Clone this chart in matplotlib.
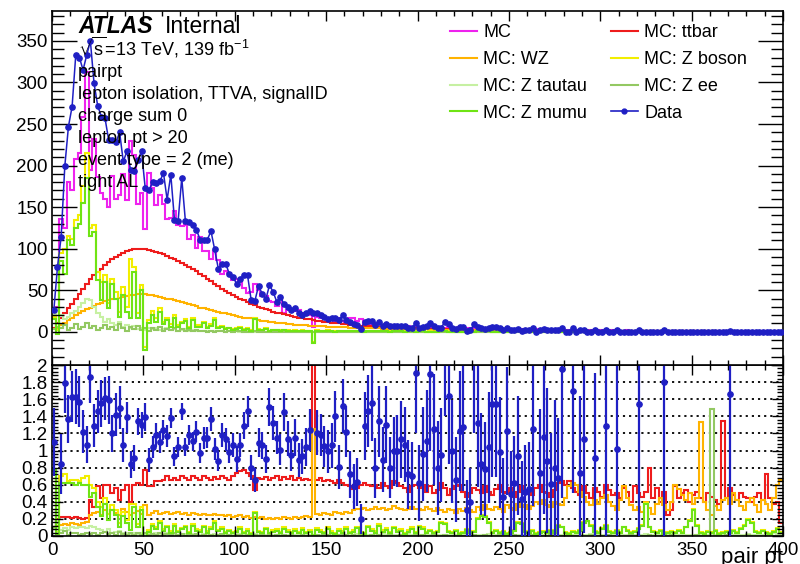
import numpy as np
import matplotlib
matplotlib.use('Agg')
import matplotlib.pyplot as plt
from matplotlib.ticker import MultipleLocator, FuncFormatter
from matplotlib.lines import Line2D

plt.rcParams['font.family'] = ['Liberation Sans', 'DejaVu Sans']
plt.rcParams['mathtext.fontset'] = 'custom'
plt.rcParams['mathtext.rm'] = 'Liberation Sans'
plt.rcParams['mathtext.it'] = 'Liberation Sans:italic'

nan = np.nan
X_MIN, X_MAX, N_BINS = 0, 400, 200

# ---------------- top panel: event counts per bin ----------------
DATA_TOP = [
 26, 78, 114, 199, 247, 271, 333, 330, 315, 333, 350, 299, 272, 259, 257, 231, 231, 228, 240, 205,
 217, 195, 194, 207, 217, 173, 170, 180, 179, 181, 191, 159, 189, 135, 133, 185, 133, 132, 129, 123,
 111, 111, 111, 121, 99, 76, 82, 82, 70, 66, 58, 64, 68, 68, 38, 37, 55, 46, 39, 56,
 48, 36, 42, 33, 30, 26, 29, 23, 20, 22, 25, 23, 22, 20, 18, 15, 16, 17, 14, 20,
 14, 12, 9, 8, 3, 12, 13, 13, 8, 12, 7, 9, 7, 7, 7, 7, 7, 5, 4, 11,
 4, 6, 7, 10, 7, 5, 5, 12, 9, 5, 3, 6, 6, 1, 2, 9, 6, 4, 3, 4,
 6, 6, 4, 2, 4, 2, 2, 3, 1, 2, 2, 4, 0, 2, 3, 2, 2, 2, 2, 4,
 0, 0, 4, 0, 2, 2, 0, 0, 2, 0, 0, 2, 0, 0, 2, 0, 0, 0, 0, 0,
 2, 0, 0, 0, 0, 0, 0, 2, 0, 0, 0, 0, 0, 0, 0, 0, 0, 0, 0, 0,
 0, 0, 0, 0, 0, 1, 0, 0, 0, 0, 0, 0, 0, 0, 0, 0, 0, 0, 0, 0]

MC_TOP = [
 24, 30, 136, 125, 180, 170, 208, 215, 258, 312, 195, 232, 186, 167, 160, 150, 188, 160, 165, 190,
 158, 230, 213, 154, 167, 124, 191, 173, 152, 165, 154, 136, 137, 145, 128, 127, 128, 112, 116, 101,
 114, 97, 97, 88, 97, 86, 69, 73, 71, 62, 64, 60, 53, 47, 48, 57, 50, 43, 43, 37,
 36, 31, 40, 23, 26, 27, 25, 26, 22, 21, 20, 6, 18, 17, 17, 15, 15, 12, 17, 13,
 11, 17, 16, 13, 15, 9.5, 9, 8.5, 10, 9, 7.5, 7, 8.5, 7, 7, 6.5, 6.5, 6.8, 6.2, 5.8,
 6.0, 5.8, 6.2, 5.5, 5.6, 5.9, 5.2, 5.0, 5.6, 5.1, 4.8, 5.2, 4.7, 4.5, 4.9, 4.3, 4.2, 4.5, 4.0, 3.9,
 4.1, 3.7, 3.6, 3.9, 3.4, 3.5, 3.3, 3.6, 3.1, 3.0, 3.3, 2.9, 3.0, 2.7, 3.0, 2.6, 2.7, 2.4, 2.8, 2.3,
 2.4, 2.2, 2.5, 2.1, 2.2, 2.0, 2.1, 1.8, 2.0, 1.7, 1.9, 1.8, 1.5, 1.6, 1.7, 1.4, 1.5, 1.6, 1.3, 1.4,
 1.3, 1.2, 1.4, 1.2, 1.3, 1.0, 1.1, 1.2, 1.0, 1.1, 0.9, 1.0, 1.1, 0.9, 1.0, 0.8, 0.9, 0.8, 0.8, 0.9,
 0.7, 0.8, 0.7, 0.8, 0.7, 0.8, 0.6, 0.7, 0.7, 0.6, 0.7, 0.6, 0.6, 0.5, 0.6, 0.6, 0.5, 0.5, 0.5, 0.4]

TTBAR_TOP = [
 5, 10, 16, 22, 28, 34, 40, 46, 52, 58, 63, 68, 72, 76, 80, 84, 87, 90, 92, 95,
 97, 98, 99, 99, 99, 99, 98, 97, 96, 95, 93, 91, 89, 87, 85, 83, 80, 78, 76, 73,
 70, 67, 64, 61, 58, 55, 52, 49, 47, 44, 42, 40, 38, 36, 34, 32, 30, 29, 27, 26,
 24, 23, 22, 21, 20, 19, 18, 17, 16, 15.5, 15, 14, 13.5, 13, 12, 11.5, 11, 10.5, 10, 9.5,
 9, 8.5, 8, 7.5, 7, 6.8, 6.6, 6.4, 6.2, 6.0, 5.8, 5.6, 5.4, 5.2, 5.0, 4.8, 4.6, 4.5, 4.4, 4.2,
 4.0, 3.9, 3.8, 3.7, 3.6, 3.5, 3.4, 3.3, 3.2, 3.1, 3.0, 2.9, 2.8, 2.7, 2.6, 2.5, 2.45, 2.4, 2.3, 2.2,
 2.1, 2.05, 2.0, 1.95, 1.9, 1.85, 1.8, 1.75, 1.7, 1.65, 1.6, 1.55, 1.5, 1.45, 1.4, 1.35, 1.3, 1.25, 1.2, 1.15,
 1.1, 1.08, 1.05, 1.02, 1.0, 0.97, 0.94, 0.9, 0.88, 0.85, 0.82, 0.8, 0.78, 0.76, 0.74, 0.72, 0.7, 0.68, 0.66, 0.64,
 0.62, 0.6, 0.58, 0.56, 0.55, 0.54, 0.52, 0.5, 0.49, 0.48, 0.46, 0.45, 0.44, 0.43, 0.42, 0.41, 0.4, 0.39, 0.38, 0.37,
 0.36, 0.35, 0.34, 0.33, 0.32, 0.31, 0.3, 0.29, 0.28, 0.28, 0.27, 0.26, 0.26, 0.25, 0.24, 0.24, 0.23, 0.22, 0.22, 0.21]

WZ_TOP = [
 3, 5, 8, 11, 14, 17, 20, 22, 25, 27, 29, 31, 33, 35, 37, 38, 39, 40, 41, 42,
 43, 44, 44, 45, 45, 45, 44, 44, 43, 42, 41, 40, 39, 38, 37, 36, 35, 34, 32, 31,
 29, 28, 27, 26, 25, 24, 23, 22, 21, 20, 19, 18, 17, 16.5, 16, 15, 14, 13.5, 12.5, 12,
 11.5, 11, 10.5, 10, 9.5, 9, 8.7, 8.4, 8.1, 7.8, 7.5, 7.2, 7, 6.8, 6.6, 6.3, 6.1, 5.9, 5.7, 5.5,
 5.3, 5.1, 5.0, 4.8, 4.7, 4.5, 4.4, 4.3, 4.1, 4.0, 3.9, 3.8, 3.7, 3.6, 3.5, 3.4, 3.3, 3.2, 3.1, 3.0,
 2.9, 2.85, 2.8, 2.7, 2.65, 2.6, 2.5, 2.45, 2.4, 2.3, 2.25, 2.2, 2.1, 2.05, 2.0, 1.95, 1.9, 1.85, 1.8, 1.75,
 1.7, 1.65, 1.6, 1.55, 1.5, 1.47, 1.43, 1.4, 1.36, 1.32, 1.28, 1.25, 1.22, 1.18, 1.15, 1.12, 1.1, 1.07, 1.04, 1.0,
 0.98, 0.95, 0.93, 0.9, 0.88, 0.85, 0.83, 0.8, 0.78, 0.76, 0.74, 0.72, 0.7, 0.68, 0.66, 0.64, 0.62, 0.6, 0.58, 0.57,
 0.55, 0.54, 0.52, 0.51, 0.5, 0.48, 0.47, 0.46, 0.45, 0.44, 0.42, 0.41, 0.4, 0.39, 0.38, 0.37, 0.36, 0.35, 0.34, 0.33,
 0.32, 0.31, 0.3, 0.3, 0.29, 0.28, 0.27, 0.27, 0.26, 0.25, 0.25, 0.24, 0.23, 0.23, 0.22, 0.22, 0.21, 0.2, 0.2, 0.19]

ZBOSON_TOP = [
 18, 2, 95, 100, 115, 112, 135, 140, 175, 215, 125, 128, 72, 60, 68, 35, 64, 48, 24, 54,
 30, 88, 78, 22, 56, -18, 14, 25, 16, 28, 12, 17, 9, 20, 8, 12, 15, 6, 16, 8,
 8, 12, 6, 9, 16, 6, 7, 4, 5, 3, 4, 6, 3, 4, 2, 16, 3, 2.5, 4, 1.5,
 2.5, 2.5, 2, 2.5, 1.8, 1.2, 2, 1.4, 2, 1, 1.4, -12, 1.6, 1.2, 0.9, 1.8, 1.1, 0.6, 1.4, 1.0,
 1.2, 0.7, 1.1, 1.5, 0.8, 0.6, 1.2, 0.9, 0.7, 1.4, 0.8, 1.0, 0.6, 1.1, 0.7, 0.9, 0.5, 0.8, 1.0, 0.6,
 0.7, 0.6, 0.3, 0.4, 0.3, 0.4, 0.9, 0.8, 0.4, 0.3, 0.4, 0.2, 0.3, 0.4, 0.2, 0.3, 0.9, 1.0, 1.0, 0.7,
 0.3, 0.3, 0.2, 0.3, 0.2, 0.2, 0.3, 0.6, 0.5, 0.3, 0.2, 0.3, 0.2, 0.2, 0.3, 0.2, 0.3, 0.2, 0.4, 0.3,
 0.2, 0.1, 0.2, 0.2, 0.2, 0.4, 0.5, 0.3, 0.2, 0.2, 0.3, 0.3, 0.2, 0.1, 0.2, 0.2, 0.3, 0.2, 0.1, 0.2,
 0.2, 0.2, 0.6, 0.2, 0.2, 0.1, 0.2, 0.1, 0.1, 0.2, 0.1, 0.2, 0.1, 0.2, 0.3, 0.3, 0.2, 0.1, 0.1, 0.1,
 0.1, 0.1, 0.1, 0.1, 0.1, 0.1, 0.1, 0.1, 0.2, 0.2, 0.2, 0.2, 0.1, 0.1, 0.1, 0.1, 0.1, 0.1, 0.1, 0.1]

ZTAUTAU_TOP = [
 20, 28, 20, 15, 18, 22, 25, 30, 35, 40, 38, 30, 22, 18, 12, 15, 10, 8, 12, 6,
 8, 5, 7, 3, 5, 2, 4, 3, 5, 2, 3, 4, 2, 3, 1, 2, 3, 1, 2, 1,
 1, 0.5, 1, 0.5, 0.8, 0.4, 0.6, 0.3, 0.5, 0.2, 0.4, 0.3, 0.2, 0.4, 0.1, 0.3, 0.2, 0.1, 0.2, 0.1,
 0.2, 0.1, 0.1, 0.2, 0.1, 0.1, 0.1, 0.2, 0.1, 0.0, 0.1, 0.1, 0.1, 0.0, 0.1, 0.1, 0.0, 0.1, 0.1, 0.0,
 0.1, 0.0, 0.1, 0.1, 0.0, 0.1, 0.0, 0.0, 0.1, 0.0, 0.0, 0.1, 0.0, 0.0, 0.0, 0.1, 0.0, 0.0, 0.0, 0.0,
 0.05, 0.0, 0.0, 0.05, 0.0, 0.0, 0.05, 0.0, 0.0, 0.0, 0.05, 0.0, 0.0, 0.0, 0.05, 0.0, 0.0, 0.0, 0.0, 0.05,
 0.0, 0.0, 0.0, 0.05, 0.0, 0.0, 0.0, 0.0, 0.05, 0.0, 0.0, 0.0, 0.0, 0.0, 0.05, 0.0, 0.0, 0.0, 0.0, 0.0,
 0.05, 0.0, 0.0, 0.0, 0.0, 0.0, 0.05, 0.0, 0.0, 0.0, 0.0, 0.0, 0.0, 0.05, 0.0, 0.0, 0.0, 0.0, 0.0, 0.0,
 0.0, 0.0, 0.05, 0.0, 0.0, 0.0, 0.0, 0.0, 0.0, 0.0, 0.05, 0.0, 0.0, 0.0, 0.0, 0.0, 0.0, 0.0, 0.05, 0.0,
 0.0, 0.0, 0.0, 0.0, 0.05, 0.0, 0.0, 0.0, 0.0, 0.0, 0.0, 0.0, 0.0, 0.0, 0.05, 0.0, 0.0, 0.0, 0.0, 0.0]

ZEE_TOP = [
 3, 6, 4, 8, 2, 5, 9, 3, 6, 10, 4, 7, 2, 5, 8, 3, 6, 2, 9, 4,
 1, 6, 3, 7, 2, 5, 1, 4, 2, 6, 1, 3, 2, 4, 1, 3, 0.5, 2, 1, 2,
 0.5, 1, 0.3, 0.8, 0.2, 0.6, 1.0, 0.3, 0.5, 0.2, 0.4, 0.6, 0.2, 0.3, 0.1, 0.4, 0.2, 0.3, 0.1, 0.2,
 0.1, 0.2, 0.1, 0.3, 0.1, 0.2, 0.1, 0.1, 0.2, 0.1, 0.0, 0.1, 0.1, 0.0, 0.1, 0.2, 0.1, 0.0, 0.1, 0.1,
 0.1, 0.0, 0.1, 0.0, 0.1, 0.0, 0.0, 0.1, 0.0, 0.1, 0.0, 0.0, 0.1, 0.0, 0.0, 0.1, 0.0, 0.0, 0.0, 0.1,
 0.0, 0.05, 0.0, 0.0, 0.05, 0.0, 0.0, 0.05, 0.0, 0.0, 0.0, 0.05, 0.0, 0.0, 0.0, 0.05, 0.0, 0.0, 0.05, 0.0,
 0.0, 0.0, 0.05, 0.0, 0.0, 0.0, 0.05, 0.0, 0.0, 0.0, 0.0, 0.05, 0.0, 0.0, 0.0, 0.0, 0.05, 0.0, 0.0, 0.0,
 0.0, 0.05, 0.0, 0.0, 0.0, 0.0, 0.0, 0.05, 0.0, 0.0, 0.0, 0.0, 0.05, 0.0, 0.0, 0.0, 0.0, 0.0, 0.05, 0.0,
 0.0, 0.0, 0.0, 0.05, 0.0, 0.0, 0.0, 0.0, 0.0, 0.05, 0.0, 0.0, 0.0, 0.0, 0.0, 0.0, 0.05, 0.0, 0.0, 0.0,
 1.0, 0.0, 0.0, 0.0, 0.05, 0.0, 0.0, 0.0, 0.0, 0.0, 0.05, 0.0, 0.0, 0.0, 0.0, 0.0, 0.05, 0.0, 0.0, 0.0]

ZMUMU_TOP = [
 15, -3, 85, 70, 110, 105, 125, 130, 155, 185, 115, 120, 62, 38, 60, 28, 58, 40, 18, 44,
 24, 16, 72, 17, 50, -22, 10, 20, 12, 24, 9, 14, 6, 17, 6, 10, 13, 4, 14, 6,
 6, 10, 4, 7, 14, 5, 6, 3, 4, 2, 3, 5, 2, 3, 1, 15, 2.5, 2, 3.5, 1,
 2, 2, 1.5, 2, 1.3, 0.8, 1.5, 1, 1.5, 0.6, 1, -14, 1.2, 0.8, 0.5, 1.4, 0.7, 0.3, 1.0, 0.6,
 0.9, 0.4, 0.8, 1.2, 0.5, 0.3, 0.9, 0.6, 0.4, 1.1, 0.5, 0.7, 0.3, 0.8, 0.4, 0.6, 0.2, 0.5, 0.7, 0.3,
 0.6, 0.5, 0.2, 0.3, 0.2, 0.3, 0.8, 0.7, 0.3, 0.2, 0.3, 0.1, 0.2, 0.3, 0.1, 0.2, 0.8, 0.9, 0.9, 0.6,
 0.2, 0.2, 0.1, 0.2, 0.1, 0.1, 0.2, 0.5, 0.4, 0.2, 0.1, 0.2, 0.1, 0.1, 0.2, 0.1, 0.2, 0.1, 0.3, 0.2,
 0.1, 0.0, 0.1, 0.1, 0.1, 0.3, 0.4, 0.2, 0.1, 0.1, 0.2, 0.2, 0.1, 0.0, 0.1, 0.1, 0.2, 0.1, 0.0, 0.1,
 0.1, 0.1, 0.5, 0.1, 0.1, 0.0, 0.1, 0.0, 0.0, 0.1, 0.0, 0.1, 0.0, 0.1, 0.2, 0.2, 0.1, 0.0, 0.0, 0.0,
 0.0, 0.0, 0.0, 0.0, 0.0, 0.0, 0.0, 0.0, 0.1, 0.1, 0.1, 0.1, 0.0, 0.0, 0.0, 0.0, 0.0, 0.0, 0.0, 0.0]

# ---------------- ratio panel (fraction of total MC) ----------------
R_DATA = [
 1.10, nan, 0.84, 1.79, 1.37, 1.63, 1.63, 1.57, 1.22, 1.07, 1.86, 1.29, 1.46, 1.55, 1.61, 1.59, 1.20, 1.42, 1.50, 1.06,
 1.39, 0.84, 0.91, 1.34, 1.30, 1.39, 0.89, 1.04, 1.18, 1.10, 1.24, 1.17, 1.38, 0.93, 1.04, 1.46, 1.04, 1.18, 1.11, 1.22,
 0.97, 1.15, 1.15, 1.37, 1.02, 0.88, 1.18, 1.13, 0.98, 1.06, 0.90, 1.06, 1.29, 1.46, 0.80, 0.65, 1.09, 1.06, 0.90, 1.51,
 1.32, 1.15, 1.01, 1.45, 1.14, 0.95, 1.15, 0.89, 0.93, 1.04, 1.24, nan, 1.21, 1.18, 1.05, 0.99, 1.06, 1.40, 0.81, 1.52,
 1.22, 0.72, 0.58, 0.63, 0.20, 1.29, 1.46, 1.56, 0.80, 1.34, 0.89, 1.30, 0.80, 0.99, 0.99, 1.13, 1.07, 0.72, 0.70, 1.91,
 0.62, 0.96, 1.11, 1.89, 1.25, 0.80, 0.95, 2.40, 1.64, 0.99, 0.66, 1.23, 1.28, 0.30, 0.40, 2.20, 1.32, 0.84, 0.78, 1.04,
 1.54, 1.54, 0.98, 0.46, 1.23, 0.49, 0.62, 0.94, 0.43, 0.52, 0.55, 1.25, nan, 0.74, 1.16, 0.88, 0.61, 0.79, 0.68, 1.95,
 nan, nan, 1.70, nan, 0.74, 1.13, nan, nan, 0.91, nan, nan, 1.29, nan, nan, 1.02, nan, nan, nan, nan, nan,
 1.54, nan, nan, nan, nan, nan, nan, 1.80, nan, nan, nan, nan, nan, nan, nan, nan, nan, nan, nan, nan,
 nan, nan, nan, nan, nan, 1.66, nan, nan, nan, nan, nan, nan, nan, nan, nan, nan, nan, nan, nan, nan]

R_DATA_ERR = [
 0.40, 0, 0.35, 0.35, 0.28, 0.30, 0.32, 0.30, 0.25, 0.22, 0.30, 0.25, 0.25, 0.28, 0.25, 0.28, 0.22, 0.25, 0.25, 0.20,
 0.18, 0.16, 0.15, 0.16, 0.15, 0.16, 0.14, 0.13, 0.14, 0.13, 0.12, 0.13, 0.12, 0.11, 0.12, 0.10, 0.11, 0.12, 0.11, 0.12,
 0.12, 0.13, 0.12, 0.14, 0.13, 0.12, 0.14, 0.13, 0.13, 0.14, 0.15, 0.14, 0.16, 0.18, 0.15, 0.14, 0.17, 0.16, 0.16, 0.22,
 0.20, 0.19, 0.18, 0.22, 0.20, 0.19, 0.22, 0.20, 0.21, 0.22, 0.25, 0, 0.26, 0.25, 0.24, 0.25, 0.26, 0.30, 0.26, 0.32,
 0.30, 0.28, 0.26, 0.28, 0.18, 0.40, 0.42, 0.45, 0.35, 0.42, 0.38, 0.45, 0.36, 0.40, 0.42, 0.45, 0.44, 0.40, 0.40, 0.70,
 0.45, 0.55, 0.60, 0.90, 0.65, 0.55, 0.55, 1.00, 0.80, 0.60, 0.50, 0.70, 0.75, 0.35, 0.40, 1.00, 0.75, 0.60, 0.55, 0.65,
 0.85, 0.85, 0.65, 0.45, 0.75, 0.50, 0.55, 0.70, 0.45, 0.55, 0.55, 0.90, 0, 0.75, 0.90, 0.85, 0.60, 0.80, 0.70, 1.50,
 0, 0, 1.20, 0, 0.90, 1.10, 0, 0, 1.00, 0, 0, 1.60, 0, 0, 1.60, 0, 0, 0, 0, 0,
 2.00, 0, 0, 0, 0, 0, 0, 2.20, 0, 0, 0, 0, 0, 0, 0, 0, 0, 0, 0, 0,
 0, 0, 0, 0, 0, 2.00, 0, 0, 0, 0, 0, 0, 0, 0, 0, 0, 0, 0, 0, 0]

R_TTBAR = [
 0.10, 0.20, 0.22, 0.22, 0.22, 0.21, 0.22, 0.21, 0.20, 0.21, 0.42, 0.34, 0.58, 0.45, 0.60, 0.60, 0.50, 0.56, 0.42, 0.54,
 0.60, 0.40, 0.60, 0.62, 0.60, 0.77, 0.58, 0.58, 0.64, 0.64, 0.66, 0.70, 0.66, 0.68, 0.66, 0.70, 0.68, 0.66, 0.70, 0.68,
 0.66, 0.70, 0.68, 0.66, 0.69, 0.67, 0.70, 0.68, 0.66, 0.70, 0.74, 0.76, 0.77, 0.74, 0.70, 0.54, 0.68, 0.67, 0.69, 0.66,
 0.68, 0.70, 0.66, 0.69, 0.67, 0.70, 0.66, 0.68, 0.65, 0.67, 0.66, 2.50, 0.66, 0.68, 0.64, 0.66, 0.64, 0.62, 0.66, 0.62,
 0.60, 0.58, 0.55, 0.56, 0.60, 0.62, 0.60, 0.58, 0.60, 0.56, 0.62, 0.58, 0.56, 0.64, 0.62, 0.58, 0.56, 0.52, 0.58, 0.60,
 0.56, 0.60, 0.52, 0.58, 0.50, 0.54, 0.62, 0.56, 0.48, 0.55, 0.58, 0.60, 0.52, 0.46, 0.50, 0.56, 0.54, 0.50, 0.58, 0.52,
 0.48, 0.55, 0.60, 0.52, 0.50, 0.56, 0.46, 0.52, 0.58, 0.54, 0.50, 0.48, 0.56, 0.60, 0.52, 0.50, 0.46, 0.54, 0.62, 0.64,
 0.60, 0.64, 0.56, 0.52, 0.48, 0.58, 0.50, 0.44, 0.56, 0.52, 0.46, 0.60, 0.54, 0.48, 0.50, 0.44, 0.56, 0.52, 0.40, 0.58,
 0.50, 0.46, 0.52, 0.79, 0.44, 0.56, 0.40, 0.52, 0.25, 0.30, 0.58, 0.44, 0.50, 0.54, 0.40, 0.48, 0.52, 0.44, 0.40, 0.50,
 0.46, 0.42, 0.38, 1.34, 0.44, 0.56, 0.48, 0.42, 0.50, 0.46, 0.44, 0.40, 0.46, 0.50, 0.42, 0.72, 0.45, 0.38, 0.40, 0.15]

R_WZ = [
 0.10, 0.12, 0.13, 0.14, 0.13, 0.15, 0.14, 0.13, 0.15, 0.16, 0.25, 0.27, 0.28, 0.24, 0.30, 0.26, 0.30, 0.27, 0.25, 0.32,
 0.28, 0.24, 0.27, 0.29, 0.26, 0.36, 0.25, 0.27, 0.29, 0.26, 0.27, 0.28, 0.26, 0.27, 0.28, 0.26, 0.27, 0.25, 0.27, 0.26,
 0.25, 0.26, 0.25, 0.24, 0.26, 0.24, 0.25, 0.23, 0.24, 0.22, 0.23, 0.24, 0.22, 0.23, 0.21, 0.22, 0.21, 0.22, 0.20, 0.21,
 0.20, 0.21, 0.20, 0.22, 0.21, 0.20, 0.22, 0.21, 0.22, 0.23, 0.22, 1.25, 0.26, 0.25, 0.27, 0.26, 0.25, 0.28, 0.27, 0.26,
 0.28, 0.27, 0.30, 0.32, 0.31, 0.33, 0.30, 0.32, 0.34, 0.31, 0.33, 0.30, 0.32, 0.35, 0.33, 0.31, 0.30, 0.32, 0.34, 0.31,
 0.32, 0.30, 0.34, 0.31, 0.29, 0.33, 0.30, 0.28, 0.32, 0.30, 0.27, 0.31, 0.29, 0.33, 0.30, 0.28, 0.34, 0.30, 0.36, 0.32,
 0.30, 0.34, 0.31, 0.28, 0.36, 0.33, 0.30, 0.38, 0.34, 0.36, 0.32, 0.35, 0.40, 0.38, 0.42, 0.36, 0.34, 0.40, 0.38, 0.36,
 0.44, 0.58, 0.62, 0.60, 0.52, 0.46, 0.40, 0.36, 0.42, 0.38, 0.45, 0.48, 0.40, 0.35, 0.30, 0.42, 0.58, 0.45, 0.36, 0.30,
 0.34, 0.28, 0.40, 0.33, 0.26, 0.38, 0.45, 0.36, 0.30, 0.40, 0.60, 0.55, 0.48, 0.42, 0.50, 0.38, 0.45, 1.33, 0.40, 0.30,
 0.25, 0.35, 0.30, 0.42, 0.45, 0.38, 0.50, 0.42, 0.35, 0.30, 0.40, 0.44, 0.36, 0.28, 0.42, 0.38, 0.30, 0.45, 0.60, 0.66]

R_ZBOSON = [
 0.78, 0.05, 0.70, 0.72, 0.64, 0.66, 0.66, 0.64, 0.68, 0.70, 0.60, 0.56, 0.40, 0.34, 0.44, 0.26, 0.36, 0.30, 0.15, 0.28,
 0.19, 0.38, 0.37, 0.14, 0.34, -0.08, 0.07, 0.14, 0.10, 0.17, 0.08, 0.12, 0.06, 0.14, 0.06, 0.09, 0.12, 0.05, 0.14, 0.08,
 0.07, 0.12, 0.06, 0.10, 0.17, 0.07, 0.10, 0.05, 0.07, 0.05, 0.06, 0.10, 0.05, 0.08, 0.04, 0.28, 0.06, 0.05, 0.09, 0.04,
 0.07, 0.08, 0.05, 0.10, 0.07, 0.05, 0.08, 0.05, 0.09, 0.05, 0.07, -0.40, 0.09, 0.07, 0.05, 0.10, 0.06, 0.04, 0.08, 0.06,
 0.10, 0.05, 0.07, 0.11, 0.05, 0.04, 0.12, 0.08, 0.06, 0.14, 0.07, 0.09, 0.05, 0.11, 0.07, 0.08, 0.04, 0.07, 0.10, 0.05,
 0.12, 0.10, 0.05, 0.07, 0.05, 0.06, 0.16, 0.15, 0.06, 0.05, 0.07, 0.04, 0.05, 0.08, 0.05, 0.06, 0.21, 0.24, 0.23, 0.16,
 0.05, 0.07, 0.05, 0.06, 0.04, 0.05, 0.07, 0.16, 0.15, 0.06, 0.05, 0.07, 0.04, 0.05, 0.06, 0.05, 0.07, 0.05, 0.13, 0.11,
 0.05, 0.04, 0.06, 0.05, 0.07, 0.16, 0.18, 0.13, 0.06, 0.05, 0.09, 0.13, 0.06, 0.05, 0.07, 0.05, 0.11, 0.07, 0.05, 0.06,
 0.09, 0.13, 0.39, 0.11, 0.06, 0.05, 0.07, 0.04, 0.05, 0.06, 0.05, 0.07, 0.05, 0.11, 0.19, 0.31, 0.13, 0.05, 0.04, 0.06,
 0.05, 0.07, 0.04, 0.05, 0.06, 0.05, 0.07, 0.05, 0.09, 0.13, 0.20, 0.16, 0.06, 0.05, 0.07, 0.05, 0.04, 0.06, 0.09, 0.05]

R_ZTAUTAU = [
 0.08, 0.03, 0.07, 0.09, 0.07, 0.10, 0.09, 0.11, 0.10, 0.09, 0.12, 0.10, 0.08, 0.07, 0.05, 0.08, 0.04, 0.05, 0.06, 0.03,
 0.04, 0.02, 0.03, 0.02, 0.03, 0.01, 0.02, 0.02, 0.03, 0.01, 0.02, 0.03, 0.01, 0.02, 0.01, 0.02, 0.02, 0.01, 0.02, 0.01,
 0.01, 0.02, 0.01, 0.01, 0.02, 0.01, 0.01, 0.02, 0.01, 0.01, 0.01, 0.02, 0.01, 0.01, 0.01, 0.02, 0.01, 0.01, 0.01, 0.01,
 0.01, 0.01, 0.02, 0.01, 0.01, 0.01, 0.01, 0.02, 0.01, 0.01, 0.01, 0.01, 0.01, 0.01, 0.02, 0.01, 0.01, 0.01, 0.01, 0.01,
 0.01, 0.01, 0.01, 0.02, 0.01, 0.01, 0.01, 0.01, 0.01, 0.01, 0.02, 0.01, 0.01, 0.01, 0.01, 0.01, 0.01, 0.02, 0.01, 0.01,
 0.01, 0.01, 0.01, 0.01, 0.02, 0.01, 0.01, 0.01, 0.01, 0.01, 0.01, 0.01, 0.02, 0.01, 0.01, 0.01, 0.01, 0.01, 0.01, 0.02,
 0.01, 0.01, 0.01, 0.01, 0.01, 0.02, 0.01, 0.01, 0.01, 0.01, 0.01, 0.01, 0.01, 0.02, 0.01, 0.01, 0.01, 0.01, 0.01, 0.01,
 0.02, 0.01, 0.01, 0.01, 0.01, 0.01, 0.01, 0.02, 0.01, 0.01, 0.01, 0.01, 0.01, 0.01, 0.01, 0.02, 0.01, 0.01, 0.01, 0.01,
 0.01, 0.01, 0.02, 0.01, 0.01, 0.01, 0.01, 0.01, 0.01, 0.02, 0.01, 0.01, 0.01, 0.01, 0.01, 0.01, 0.01, 0.02, 0.01, 0.01,
 0.01, 0.01, 0.01, 0.02, 0.01, 0.01, 0.01, 0.01, 0.01, 0.01, 0.02, 0.01, 0.01, 0.01, 0.01, 0.01, 0.02, 0.03, 0.02, 0.01]

R_ZEE = [
 0.10, 0.15, 0.03, 0.06, 0.01, 0.03, 0.04, 0.01, 0.02, 0.03, 0.02, 0.03, 0.01, 0.03, 0.05, 0.02, 0.03, 0.01, 0.05, 0.02,
 0.01, 0.03, 0.01, 0.04, 0.01, 0.04, 0.01, 0.02, 0.01, 0.04, 0.01, 0.02, 0.01, 0.03, 0.01, 0.02, 0.00, 0.02, 0.01, 0.02,
 0.00, 0.01, 0.00, 0.01, 0.00, 0.01, 0.02, 0.00, 0.01, 0.00, 0.01, 0.01, 0.00, 0.01, 0.00, 0.01, 0.00, 0.01, 0.00, 0.01,
 0.00, 0.01, 0.00, 0.01, 0.00, 0.01, 0.00, 0.00, 0.01, 0.00, 0.00, 0.01, 0.01, 0.00, 0.01, 0.01, 0.00, 0.00, 0.01, 0.01,
 0.01, 0.00, 0.01, 0.00, 0.01, 0.00, 0.00, 0.01, 0.00, 0.01, 0.00, 0.00, 0.01, 0.00, 0.00, 0.01, 0.00, 0.00, 0.00, 0.01,
 0.00, 0.01, 0.00, 0.00, 0.01, 0.00, 0.00, 0.01, 0.00, 0.00, 0.00, 0.01, 0.00, 0.00, 0.00, 0.01, 0.00, 0.00, 0.01, 0.00,
 0.00, 0.00, 0.01, 0.00, 0.00, 0.00, 0.01, 0.00, 0.00, 0.00, 0.00, 0.01, 0.00, 0.00, 0.00, 0.00, 0.01, 0.00, 0.00, 0.00,
 0.00, 0.01, 0.00, 0.00, 0.00, 0.00, 0.00, 0.01, 0.00, 0.00, 0.00, 0.00, 0.01, 0.00, 0.00, 0.00, 0.00, 0.00, 0.01, 0.00,
 0.00, 0.00, 0.00, 0.01, 0.00, 0.00, 0.00, 0.00, 0.00, 0.01, 0.00, 0.00, 0.00, 0.00, 0.00, 0.00, 0.01, 0.00, 0.00, 0.00,
 1.48, 0.00, 0.00, 0.00, 0.01, 0.00, 0.00, 0.00, 0.00, 0.00, 0.01, 0.00, 0.00, 0.00, 0.00, 0.00, 0.01, 0.00, 0.00, 0.00]

R_ZMUMU = [
 0.77, 0.02, 0.62, 0.62, 0.62, 0.62, 0.60, 0.62, 0.60, 0.60, 0.46, 0.50, 0.34, 0.23, 0.38, 0.19, 0.30, 0.25, 0.11, 0.23,
 0.15, 0.07, 0.34, 0.11, 0.30, -0.10, 0.05, 0.12, 0.08, 0.15, 0.06, 0.10, 0.04, 0.12, 0.05, 0.08, 0.10, 0.04, 0.12, 0.06,
 0.05, 0.10, 0.04, 0.08, 0.15, 0.06, 0.08, 0.04, 0.06, 0.03, 0.05, 0.08, 0.03, 0.06, 0.02, 0.27, 0.05, 0.04, 0.08, 0.03,
 0.05, 0.06, 0.04, 0.08, 0.05, 0.03, 0.06, 0.04, 0.07, 0.03, 0.05, -0.50, 0.07, 0.05, 0.03, 0.08, 0.04, 0.02, 0.06, 0.04,
 0.08, 0.03, 0.05, 0.09, 0.03, 0.02, 0.10, 0.06, 0.04, 0.12, 0.05, 0.07, 0.03, 0.09, 0.05, 0.06, 0.02, 0.05, 0.08, 0.03,
 0.11, 0.08, 0.04, 0.06, 0.03, 0.05, 0.15, 0.14, 0.05, 0.03, 0.06, 0.02, 0.04, 0.07, 0.03, 0.05, 0.20, 0.23, 0.22, 0.15,
 0.04, 0.06, 0.03, 0.05, 0.02, 0.04, 0.06, 0.15, 0.14, 0.05, 0.03, 0.06, 0.02, 0.04, 0.05, 0.03, 0.06, 0.04, 0.12, 0.10,
 0.04, 0.02, 0.05, 0.03, 0.06, 0.15, 0.17, 0.12, 0.05, 0.03, 0.08, 0.12, 0.05, 0.03, 0.06, 0.04, 0.10, 0.06, 0.03, 0.05,
 0.08, 0.12, 0.38, 0.10, 0.05, 0.03, 0.06, 0.02, 0.04, 0.05, 0.03, 0.06, 0.04, 0.10, 0.18, 0.30, 0.12, 0.04, 0.02, 0.05,
 0.03, 0.06, 0.02, 0.04, 0.05, 0.03, 0.06, 0.04, 0.08, 0.12, 0.19, 0.15, 0.05, 0.03, 0.06, 0.04, 0.02, 0.05, 0.08, 0.04]

LABELS = ['MC', 'MC: WZ', 'MC: Z tautau', 'MC: Z mumu',
          'MC: ttbar', 'MC: Z boson', 'MC: Z ee', 'Data']
INFO_LINES = ['pairpt', 'lepton isolation, TTVA, signalID', 'charge sum 0',
              'lepton pt > 20', 'event type = 2 (me)', 'tight AL']

C_MC, C_TT, C_WZ = '#ee22ee', '#ee1c1c', '#ffb300'
C_ZB, C_ZTT, C_ZEE, C_ZMM = '#f2ee00', '#c6f0a2', '#93c862', '#6fe414'
C_DATA = '#1f1fc4'

for arr in [DATA_TOP, MC_TOP, TTBAR_TOP, WZ_TOP, ZBOSON_TOP, ZTAUTAU_TOP, ZEE_TOP, ZMUMU_TOP,
            R_DATA, R_DATA_ERR, R_TTBAR, R_WZ, R_ZBOSON, R_ZTAUTAU, R_ZEE, R_ZMUMU]:
    assert len(arr) == N_BINS, len(arr)

edges = np.linspace(X_MIN, X_MAX, N_BINS + 1)
centers = 0.5 * (edges[:-1] + edges[1:])

W, H = 800, 564
fig = plt.figure(figsize=(W / 100, H / 100), dpi=100)


def box(l, t, r, b):
    return [l / W, 1 - b / H, (r - l) / W, (b - t) / H]


ax2 = fig.add_axes(box(52, 365, 783, 536))
ax1 = fig.add_axes(box(52, 11, 783, 365))

LW = 1.5
series_top = [(MC_TOP, C_MC), (TTBAR_TOP, C_TT), (WZ_TOP, C_WZ), (ZBOSON_TOP, C_ZB),
              (ZTAUTAU_TOP, C_ZTT), (ZEE_TOP, C_ZEE), (ZMUMU_TOP, C_ZMM)]
for vals, col in series_top:
    ax1.stairs(vals, edges, color=col, lw=LW, baseline=None)
ax1.plot(centers, DATA_TOP, '-o', color=C_DATA, ms=3.8, lw=1.1, zorder=5)

ax1.set_xlim(X_MIN, X_MAX)
ax1.set_ylim(-40, 386)

series_ratio = [(R_TTBAR, C_TT), (R_WZ, C_WZ), (R_ZBOSON, C_ZB),
                (R_ZTAUTAU, C_ZTT), (R_ZEE, C_ZEE), (R_ZMUMU, C_ZMM)]
for vals, col in series_ratio:
    ax2.stairs(vals, edges, color=col, lw=LW, baseline=None)
ax2.errorbar(centers, R_DATA, yerr=R_DATA_ERR, fmt='o', color=C_DATA, ms=3.8,
             elinewidth=1.6, capsize=0, zorder=5)
ax2.set_xlim(X_MIN, X_MAX)
ax2.set_ylim(0, 2)

# dotted horizontal grid of the ratio panel
for yv in np.arange(0.2, 1.81, 0.2):
    ax2.axhline(yv, color='black', lw=1.3, ls=(0, (1.2, 2.2)), zorder=0.5)

FS_TICK = 13.5
for ax in (ax1, ax2):
    ax.xaxis.set_major_locator(MultipleLocator(50))
    ax.xaxis.set_minor_locator(MultipleLocator(10))
    ax.tick_params(which='both', direction='in', top=True, right=True,
                   labelsize=FS_TICK, width=1.0)
    for sp in ax.spines.values():
        sp.set_linewidth(1.2)

ax1.yaxis.set_major_locator(MultipleLocator(50))
ax1.yaxis.set_minor_locator(MultipleLocator(10))
ax1.tick_params(axis='y', which='major', length=18, pad=3)
ax1.tick_params(axis='y', which='minor', length=8.5)
ax1.tick_params(axis='x', which='major', length=7, labelbottom=False)
ax1.tick_params(axis='x', which='minor', length=3.6)

ax2.yaxis.set_major_locator(MultipleLocator(0.2))
ax2.yaxis.set_minor_locator(MultipleLocator(0.04))
ax2.yaxis.set_major_formatter(FuncFormatter(lambda v, p: '%g' % round(v, 2)))
ax2.tick_params(axis='y', which='major', length=8, pad=3)
ax2.tick_params(axis='y', which='minor', length=4)
ax2.tick_params(axis='x', which='major', length=7, pad=4)
ax2.tick_params(axis='x', which='minor', length=3.6)


def ftext(x, y, s, **kw):
    fig.text(x / W, 1 - y / H, s, va='baseline', ha='left', **kw)


ftext(78, 33, 'ATLAS', fontsize=16.5, fontweight='bold', fontstyle='italic')
ftext(165, 33, 'Internal', fontsize=16.5)
ftext(78, 56, r'$\sqrt{\mathrm{s}}$=13 TeV, 139 fb$^{-1}$', fontsize=13)
for i, line in enumerate(INFO_LINES):
    ftext(78, 77 + 22 * i, line, fontsize=13)

# legend
cols = [C_MC, C_WZ, C_ZTT, C_ZMM, C_TT, C_ZB, C_ZEE]
handles = [Line2D([], [], color=c, lw=LW) for c in cols]
handles.append(Line2D([], [], color=C_DATA, lw=1.2, marker='o', ms=3.5))
fig.legend(handles, LABELS, ncol=2, loc='upper left',
           bbox_to_anchor=(450 / W, 1 - 24 / H), frameon=False, fontsize=13,
           handlelength=1.5, handletextpad=0.35, columnspacing=1.3,
           labelspacing=0.55, borderpad=0, borderaxespad=0)

fig.text(783 / W, 1 - 563 / H, 'pair pt', ha='right', va='baseline', fontsize=16)

fig.savefig('out.png', dpi=100)
